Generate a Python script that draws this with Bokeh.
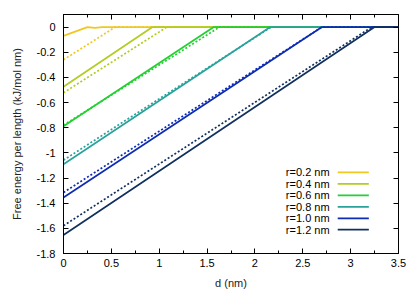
from bokeh.plotting import figure
from bokeh.models import LinearAxis, FixedTicker, Range1d, Label, BoxAnnotation
from bokeh.embed import file_html
from bokeh.resources import INLINE

# ---- data ----
radii = ["r=0.2 nm", "r=0.4 nm", "r=0.6 nm", "r=0.8 nm", "r=1.0 nm", "r=1.2 nm"]
colors = ["#F0C820", "#B2CC22", "#22D030", "#2AA29C", "#0C2CB4", "#10305E"]

# solid curves (d in nm, free energy per length in kJ/mol nm)
solid_d = [
    [0.0, 0.25, 0.33, 0.40, 3.5],
    [0.0, 0.93, 3.5],
    [0.0, 1.57, 3.5],
    [0.0, 2.16, 3.5],
    [0.0, 2.70, 3.5],
    [0.0, 3.25, 3.5],
]
solid_f = [
    [-0.07, 0.0, -0.006, 0.0, 0.0],
    [-0.474, 0.0, 0.0],
    [-0.788, 0.0, 0.0],
    [-1.09, 0.0, 0.0],
    [-1.355, 0.0, 0.0],
    [-1.653, 0.0, 0.0],
]
# dotted curves
dotted_d = [
    [0.0, 0.54, 3.5],
    [0.0, 1.08, 3.5],
    [0.0, 1.63, 3.5],
    [0.0, 2.17, 3.5],
    [0.0, 2.70, 3.5],
    [0.0, 3.22, 3.5],
]
dotted_f = [
    [-0.26, 0.0, 0.0],
    [-0.522, 0.0, 0.0],
    [-0.78, 0.0, 0.0],
    [-1.058, 0.0, 0.0],
    [-1.315, 0.0, 0.0],
    [-1.579, 0.0, 0.0],
]

x_ticks = [0, 0.5, 1, 1.5, 2, 2.5, 3, 3.5]
x_labels = ["0", "0.5", "1", "1.5", "2", "2.5", "3", "3.5"]
y_ticks = [0, -0.2, -0.4, -0.6, -0.8, -1, -1.2, -1.4, -1.6, -1.8]
y_labels = ["0", "-0.2", "-0.4", "-0.6", "-0.8", "-1", "-1.2", "-1.4", "-1.6", "-1.8"]

FONT = "Liberation Sans"

p = figure(width=415, height=291, output_backend="svg", toolbar_location=None,
           x_range=Range1d(0, 3.5), y_range=Range1d(-1.8, 0.1),
           min_border_left=63, min_border_right=17, min_border_top=14, min_border_bottom=38,
           x_axis_label="d (nm)", y_axis_label="Free energy per length (kJ/mol nm)")
p.grid.visible = False
p.outline_line_color = "black"
p.outline_line_width = 1
p.background_fill_color = "white"
p.border_fill_color = "white"

minor_x = [0.25, 0.75, 1.25, 1.75, 2.25, 2.75, 3.25]

def style_axis(ax):
    ax.axis_line_color = "black"
    ax.major_tick_in = 5
    ax.major_tick_out = 0
    ax.minor_tick_in = 3
    ax.minor_tick_out = 0
    ax.major_label_text_font = FONT
    ax.major_label_text_font_size = "11px"
    ax.major_label_text_color = "black"
    ax.axis_label_text_font = FONT
    ax.axis_label_text_font_size = "11px"
    ax.axis_label_text_font_style = "normal"
    ax.axis_label_text_color = "#222222"

xa = p.xaxis[0]
xa.ticker = FixedTicker(ticks=x_ticks, minor_ticks=minor_x)
xa.major_label_overrides = {t: l for t, l in zip(x_ticks, x_labels)}
style_axis(xa)
xa.major_label_standoff = 5
xa.axis_label_standoff = 7

ya = p.yaxis[0]
ya.ticker = FixedTicker(ticks=y_ticks, minor_ticks=[])
ya.major_label_overrides = {t: l for t, l in zip(y_ticks, y_labels)}
style_axis(ya)
ya.major_label_standoff = 8
ya.axis_label_standoff = 11

top = LinearAxis(ticker=FixedTicker(ticks=x_ticks, minor_ticks=minor_x))
style_axis(top)
top.major_label_overrides = {t: "" for t in x_ticks}
top.major_label_standoff = 0
p.add_layout(top, "above")
right = LinearAxis(ticker=FixedTicker(ticks=y_ticks, minor_ticks=[]))
style_axis(right)
right.major_label_overrides = {t: "" for t in y_ticks}
right.major_label_standoff = 0
p.add_layout(right, "right")

for i in range(len(radii)):
    p.line(dotted_d[i], dotted_f[i], line_color=colors[i], line_width=1.7, line_dash="2 2")
    p.line(solid_d[i], solid_f[i], line_color=colors[i], line_width=1.7)

# legend (text then sample line, gnuplot style)
leg_y0 = -1.156
leg_dy = -0.091
for i, name in enumerate(radii):
    yy = leg_y0 + i * leg_dy
    p.add_layout(Label(x=2.78, y=yy, text=name, text_align="right", text_baseline="middle",
                       text_font=FONT, text_font_size="11px", text_color="black"))
    p.add_layout(BoxAnnotation(left=2.865, right=3.19, bottom=yy - 0.007, top=yy + 0.007,
                               fill_color=colors[i], fill_alpha=1.0, line_color=None))

open("out.html", "w").write(file_html(p, INLINE))
